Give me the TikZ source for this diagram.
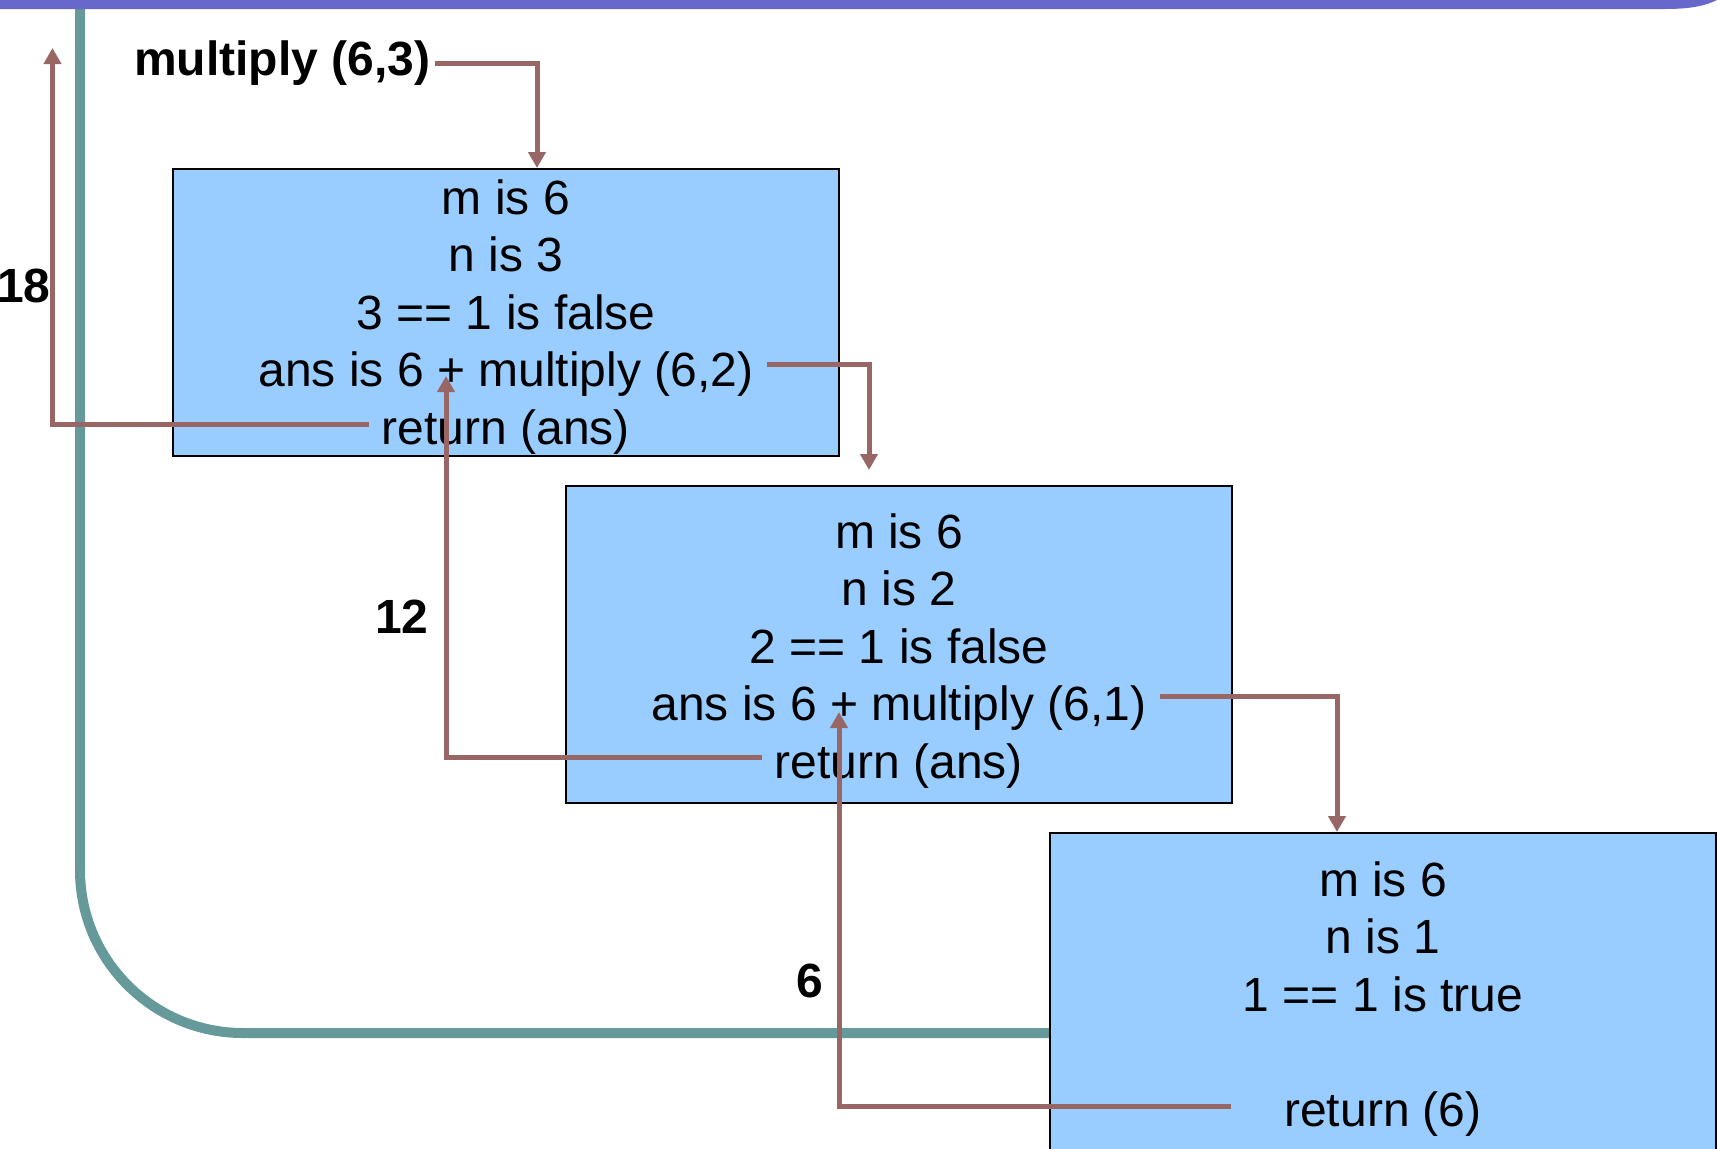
\documentclass[tikz,border=0pt]{standalone}
\usepackage{fontspec}
\setmainfont{Liberation Sans}
\usetikzlibrary{arrows.meta}
\definecolor{arrowred}{HTML}{996666}
\definecolor{tealline}{HTML}{669999}
\definecolor{boxblue}{HTML}{99CCFF}
\definecolor{barpurple}{HTML}{6868CC}
\tikzset{
  framebox/.style={draw=black, line width=1.5pt, fill=boxblue, inner sep=0pt},
  txt/.style={font=\fontsize{48}{57.6}\selectfont, inner xsep=13pt, inner ysep=0pt, anchor=base},
  lbl/.style={font=\fontsize{48}{57.6}\selectfont\bfseries, inner sep=0pt},
  arr/.style={draw=arrowred, line width=5pt, -{Triangle[length=16pt,width=17pt]}},
  backline/.style={draw=tealline, line width=10pt}
}
\begin{document}
\begin{tikzpicture}[x=1pt,y=-1pt]
\useasboundingbox (0,0) rectangle (1717,1149);
\clip (0,0) rectangle (1717,1149);

% teal return path
\draw[backline, rounded corners=163pt] (80,-20) -- (80,1033) -- (1060,1033);

% top bar
\fill[barpurple] (0,-5) -- (0,9) -- (1665,9) .. controls (1690,9) and (1705,6) .. (1717,0) -- (1717,-5) -- cycle;

% boxes
\node[framebox, minimum width=666pt, minimum height=287pt] (b1) at (506,312.5) {};
\node[framebox, minimum width=666pt, minimum height=317pt] (b2) at (899,644.5) {};
\node[framebox, minimum width=666pt, minimum height=340pt] (b3) at (1383,1003) {};

% box 1 text
\node[txt] (b1l1) at (506,214) {m is 6};
\node[txt] (b1l2) at (506,271.6) {n is 3};
\node[txt] (b1l3) at (506,329.2) {3 == 1 is false};
\node[txt] (b1l4) at (506,386.8) {ans is 6 + multiply (6,2)};
\node[txt] (b1l5) at (506,444.4) {return (ans)};

% box 2 text
\node[txt] (b2l1) at (899,548) {m is 6};
\node[txt] (b2l2) at (899,605.6) {n is 2};
\node[txt] (b2l3) at (899,663.2) {2 == 1 is false};
\node[txt] (b2l4) at (899,720.8) {ans is 6 + multiply (6,1)};
\node[txt] (b2l5) at (899,778.4) {return (ans)};

% box 3 text
\node[txt] (b3l1) at (1383,896) {m is 6};
\node[txt] (b3l2) at (1383,953.6) {n is 1};
\node[txt] (b3l3) at (1383,1011.2) {1 == 1 is true};
\node[txt] (b3l5) at (1383,1126.4) {return (6)};

% labels
\node[lbl, anchor=base west, inner xsep=5pt] (m0) at (129,75) {multiply (6,3)};
\node[lbl, anchor=base west] (v18) at (-3,302) {18};
\node[lbl, anchor=base west] (v12) at (375,633) {12};
\node[lbl, anchor=base west] (v6) at (796,997) {6};

% connector end points
\coordinate (t1) at (537,168);
\coordinate (t2) at (869,470);
\coordinate (t3) at (1337,832);
\coordinate (c18) at (52.5,48);
\coordinate (p1) at (446,376);
\coordinate (p2) at (839,712);

% calls
\draw[arr] ([yshift=12pt]m0.base east) -| (t1);
\draw[arr] ([yshift=22pt]b1l4.base east) -| (t2);
\draw[arr] ([yshift=24pt]b2l4.base east) -| (t3);

% returns
\draw[arr] ([xshift=-40pt,yshift=20pt]b3l5.base west) -| (p2);
\draw[arr] ([yshift=20.5pt]b2l5.base west) -| (p1);
\draw[arr] ([yshift=19.5pt]b1l5.base west) -| (c18);
\end{tikzpicture}
\end{document}
